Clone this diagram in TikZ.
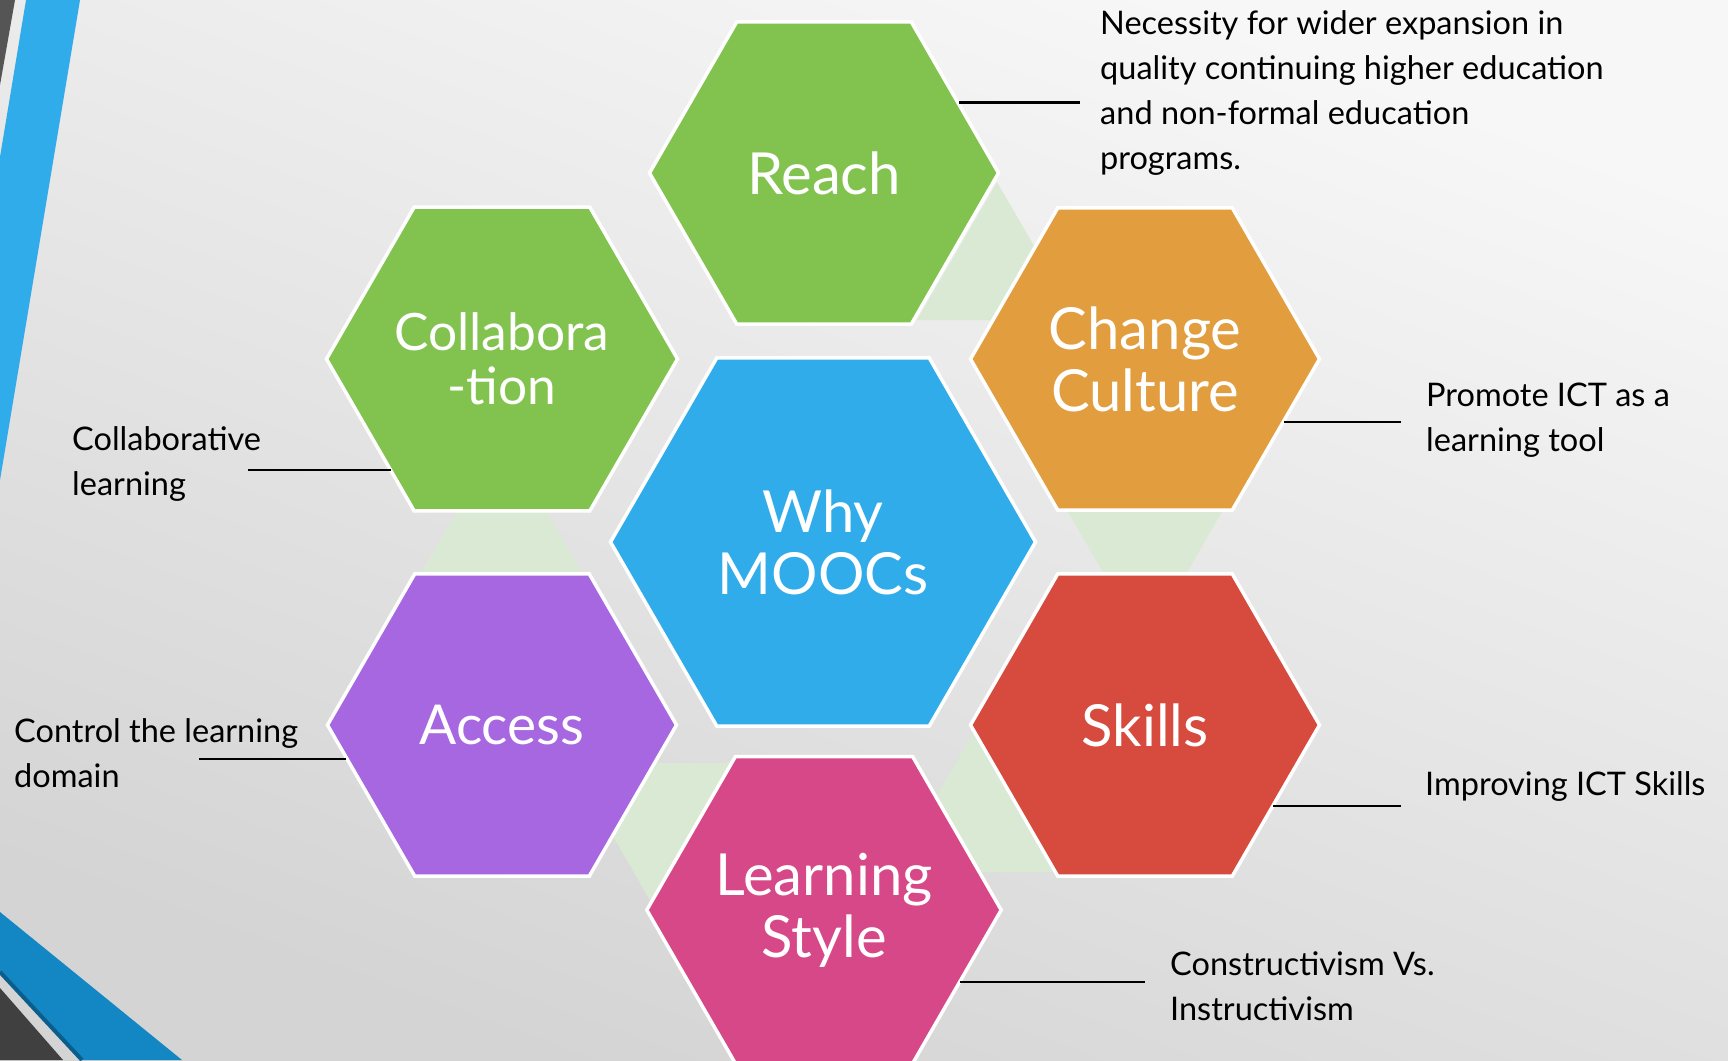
\documentclass[tikz,border=0pt]{standalone}
\usepackage{fontspec}
\setmainfont{Lato}
\usetikzlibrary{shapes.geometric}
\definecolor{ReachGreen}{HTML}{82C350}
\definecolor{CultureOrange}{HTML}{E29D3E}
\definecolor{MoocBlue}{HTML}{31ACEA}
\definecolor{AccessPurple}{HTML}{A667E1}
\definecolor{SkillsRed}{HTML}{D64B3D}
\definecolor{StylePink}{HTML}{D64887}
\definecolor{PaleGreen}{HTML}{DAE9D3}
\definecolor{StripeBlue}{HTML}{1287C3}
\definecolor{StripeNavy}{HTML}{0B5E8C}
\definecolor{StripeDark}{HTML}{404040}
\definecolor{StripeGrey}{HTML}{555555}
\tikzstyle{hexBlock}=[regular polygon, regular polygon sides=6, draw=white, line width=3.5pt, minimum size=349pt, inner sep=0pt, text=white, align=center, font=\fontsize{58}{62}\selectfont]
\tikzstyle{bigHex}=[hexBlock, minimum size=425pt]
\tikzstyle{noteText}=[anchor=west, align=left, inner sep=0pt, font=\fontsize{32.5}{45}\selectfont]
\tikzstyle{noteLine}=[line width=2.5pt]
\tikzstyle{bridge}=[fill=PaleGreen]

\begin{document}
\begin{tikzpicture}[x=1pt,y=1pt]
    \useasboundingbox (0,0) rectangle (1728,-1060);
    \clip (0,0) rectangle (1728,-1060);
    % Background
    \shade[top color=black!3, bottom color=black!17, shading angle=-20] (0,0) rectangle (1728,-1060);
    \fill[StripeGrey] (0,0) -- (15,0) -- (0,-85) -- cycle;
    \fill[MoocBlue] (26,0) -- (80,0) -- (0,-480) -- (0,-157) -- cycle;
    \fill[StripeBlue] (0,-912) -- (182,-1060) -- (82,-1060) -- (0,-972) -- cycle;
    \draw[StripeNavy, line width=4pt] (0,-972) -- (82,-1060);
    \fill[StripeDark] (0,-988) -- (63,-1060) -- (0,-1060) -- cycle;

    % Bridges between outer hexagons
    \fill[bridge] (997,-182) -- (917,-320) -- (1077,-320) -- cycle;
    \fill[bridge] (1067,-510) -- (1223,-510) -- (1145,-645) -- cycle;
    \fill[bridge] (502,-434) -- (421,-573) -- (582,-573) -- cycle;
    \fill[bridge] (651,-902) -- (571,-763) -- (731,-763) -- cycle;
    \fill[bridge] (973,-733) -- (893,-872) -- (1053,-872) -- cycle;

    % Hexagons
    \node[hexBlock, fill=ReachGreen] (reach) at (824,-173) {Reach};
    \node[hexBlock, fill=ReachGreen, font=\fontsize{51.5}{54}\selectfont] (collab) at (502,-359) {Collabora\\-tion};
    \node[hexBlock, fill=CultureOrange] (culture) at (1145,-359) {Change\\Culture};
    \node[bigHex, fill=MoocBlue] (mooc) at (823,-542) {Why\\MOOCs};
    \node[hexBlock, fill=AccessPurple, font=\fontsize{55}{60}\selectfont] (access) at (502,-725) {Access};
    \node[hexBlock, fill=SkillsRed] (skills) at (1145,-725) {Skills};
    \node[hexBlock, fill=StylePink] (style) at (824,-910) {Learning\\Style};

    % Notes
    \node[noteText] (reachNote) at (1100,-93) {Necessity for wider expansion in\\quality continuing higher education\\and non-formal education\\programs.};
    \node[noteText] (cultureNote) at (1426,-420) {Promote ICT as a\\learning tool};
    \node[noteText] (collabNote) at (72,-464) {Collaborative\\learning};
    \node[noteText] (accessNote) at (14,-753) {Control the learning\\domain};
    \node[noteText] (skillsNote) at (1425,-786) {Improving ICT Skills};
    \node[noteText] (styleNote) at (1170,-986) {Constructivism Vs.\\Instructivism};

    % Leader lines
    \coordinate (reachEnd) at (1080,-102.5);
    \coordinate (cultureEnd) at (1401,-422);
    \coordinate (collabEnd) at (248,-470);
    \coordinate (accessEnd) at (199,-759);
    \coordinate (skillsEnd) at (1401,-806);
    \coordinate (styleEnd) at (1145,-982);
    \draw[noteLine] (reachEnd -| reach.28) -- (reachEnd);
    \draw[noteLine] (cultureEnd -| culture.-25) -- (cultureEnd);
    \draw[noteLine] (collabEnd -| collab.226) -- (collabEnd);
    \draw[noteLine] (accessEnd -| access.193) -- (accessEnd);
    \draw[noteLine] (skillsEnd -| skills.-33) -- (skillsEnd);
    \draw[noteLine] (styleEnd -| style.-29) -- (styleEnd);
\end{tikzpicture}
\end{document}
